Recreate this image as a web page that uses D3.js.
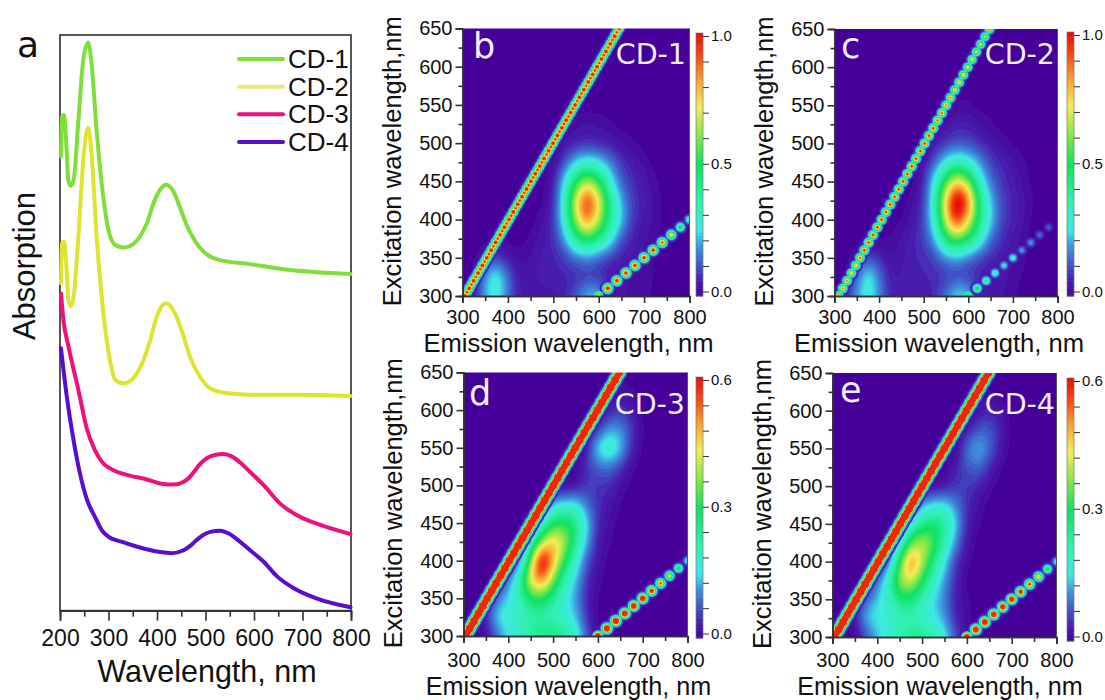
<!DOCTYPE html>
<html>
<head>
<meta charset="utf-8">
<script src="https://cdn.jsdelivr.net/npm/d3@7"></script>
<style>
  html, body { margin: 0; padding: 0; background: #fff; }
  text { font-family: "Liberation Sans", Arial, sans-serif; fill: #111; }
  .white { font-family: "DejaVu Sans", sans-serif; fill: #f3eefc; }
</style>
</head>
<body>
<div id="chart-area"></div>
<script>
// absorption spectra, panel a (wavelength nm / absorption a.u.)
var cd1Wave = [202,204,208,214,217,222,228,238,248,258,265,276,286,300,314,332,351,365,379,393,407,419,434,448,461,475,489,506,530,592,661,730,799];
var cd1Abs = [78.9,85.8,86.1,79.4,74.8,73.8,74.8,85.2,95.7,98.7,95.1,82.9,74.2,66.1,63.5,63.1,63.7,65,67.3,70.8,73.2,74,72.8,69.9,67,64.7,63,61.7,60.9,60.2,59.3,58.8,58.5];
var cd2Wave = [202,204,208,214,217,222,228,238,248,258,265,276,286,303,314,331,351,372,386,400,410,419,437,455,468,489,510,544,592,695,799];
var cd2Abs = [56.9,63.8,64.1,58.6,54.0,52.9,54.5,65.0,78.3,83.9,79.4,64.4,54.5,43.5,40.1,39.5,40.4,43.5,47.0,51.2,52.9,53.4,51.7,47.6,44.1,40.6,38.6,37.8,37.5,37.5,37.3];
var cd3Wave = [202,207,217,238,256,272,286,310,338,379,413,434,455,465,475,489,503,517,537,554,572,592,620,654,695,737,799];
var cd3Abs = [55.1,50.5,46.1,38.3,31.4,27.9,25.9,24.4,23.6,22.8,22.0,21.9,22.4,23.0,24.0,25.5,26.5,27.0,27.2,26.8,25.7,24.1,21.8,18.6,16.3,14.9,13.3];
var cd4Wave = [202,214,228,241,256,272,286,299,330,372,406,430,455,469,482,496,510,530,548,565,592,620,647,682,730,799];
var cd4Abs = [45.6,37.2,29.6,23.9,19.2,16.3,14.0,12.9,11.9,10.8,10.2,10.0,10.5,11.3,12.3,13.2,13.7,13.9,13.4,12.4,10.5,8.5,6.0,3.9,2.1,0.6];

var seriesNames = ["CD-1","CD-2","CD-3","CD-4"];
var seriesColors = ["#7fdf3a","#dfe332","#f0107c","#5a0ccf"];
var legendColors = ["#7fdf3a","#e6ea7c","#f0107c","#5a0ccf"];

// excitation-emission maps: percent of colour bar top.
// rows are excitation 650 down to 300 (step 25), columns emission 300 to 800 (step 25)
var emissionGrid = [300,325,350,375,400,425,450,475,500,525,550,575,600,625,650,675,700,725,750,775,800];
var excitationGrid = [650,625,600,575,550,525,500,475,450,425,400,375,350,325,300];

var mapB = [
[0,0,0,0,0,0,0,0,0,0,0,0,0,0,0,0,0,0,0,0,0],
[0,0,0,0,0,0,0,0,0,0,0,0,0,0,0,0,0,0,0,0,0],
[0,0,0,0,0,0,0,0,0,0,0,0,0,0,0,0,0,0,0,0,0],
[0,0,0,0,0,0,0,0,0,0,0,0,0,0,0,0,0,0,0,0,0],
[0,0,0,0,0,0,0,0,0,0,0,0,0,0,0,0,0,0,0,0,0],
[0,0,0,0,0,0,0,0,0,0,3,4,3,2,0,0,0,0,0,0,0],
[0,0,0,0,0,0,0,0,0,4,6,7,6,5,3,2,0,0,0,0,0],
[0,0,0,0,0,0,0,0,2,12,25,30,26,18,9,6,3,0,0,0,0],
[0,0,0,0,0,0,0,0,5,27,52,68,54,30,13,8,5,2,0,0,0],
[0,0,0,0,0,0,0,0,7,33,74,104,76,42,22,10,6,3,0,0,0],
[0,0,0,0,0,0,0,3,8,32,68,94,68,42,25,9,5,3,0,0,0],
[0,0,0,0,0,0,2,5,8,20,45,54,45,32,12,6,4,2,0,0,0],
[0,0,5,10,5,2,4,6,7,9,15,17,13,8,6,5,3,1,0,0,0],
[0,0,22,34,16,4,5,6,6,7,7,8,7,5,4,3,3,1,0,0,0],
[0,5,22,30,16,5,5,5,5,6,14,26,26,6,4,3,2,1,0,0,0]];

var mapC = [
[0,0,0,0,0,0,0,0,0,0,0,0,0,0,0,0,0,0,0,0,0],
[0,0,0,0,0,0,0,0,0,0,0,0,0,0,0,0,0,0,0,0,0],
[0,0,0,0,0,0,0,0,0,0,0,0,0,0,0,0,0,0,0,0,0],
[0,0,0,0,0,0,0,0,0,0,0,0,0,0,0,0,0,0,0,0,0],
[0,0,0,0,0,0,0,0,0,0,0,2,2,0,0,0,0,0,0,0,0],
[0,0,0,0,0,0,0,0,0,2,4,6,6,4,2,0,0,0,0,0,0],
[0,0,0,0,0,0,0,0,1,5,9,12,11,8,5,3,1,0,0,0,0],
[0,0,0,0,0,0,0,0,4,14,28,35,30,20,11,7,4,2,0,0,0],
[0,0,0,0,0,0,0,0,7,30,58,78,64,33,15,9,6,3,0,0,0],
[0,0,0,0,0,0,0,3,9,34,80,118,92,46,24,11,7,4,1,0,0],
[0,0,0,0,0,0,1,5,10,33,74,104,76,45,26,11,7,4,0,0,0],
[0,0,0,0,0,2,4,7,10,22,50,60,50,35,15,8,5,2,0,0,0],
[0,0,3,12,8,3,5,7,8,10,18,20,15,10,7,6,4,2,0,0,0],
[0,0,16,32,18,5,6,7,7,8,8,9,8,6,5,4,3,1,0,0,0],
[0,8,20,32,18,6,6,6,6,7,18,30,28,7,5,4,2,0,0,0,0]];

var mapD = [
[0,0,0,0,0,0,0,0,0,0,0,0,0,0,0,0,0,0,0,0,0],
[0,0,0,0,0,0,0,0,0,0,0,0,0,0,3,2,0,0,0,0,0],
[0,0,0,0,0,0,0,0,0,0,0,0,0,6,10,6,0,0,0,0,0],
[0,0,0,0,0,0,0,0,0,0,0,0,8,20,20,10,1,0,0,0,0],
[0,0,0,0,0,0,0,0,0,0,0,5,30,38,26,8,0,0,0,0,0],
[0,0,0,0,0,0,0,0,0,0,0,10,14,16,10,2,0,0,0,0,0],
[0,0,0,0,0,0,0,0,0,0,3,9,9,8,3,0,0,0,0,0,0],
[0,0,0,0,0,0,0,0,24,28,28,16,8,5,1,0,0,0,0,0,0],
[0,0,0,0,0,0,0,32,50,54,48,27,7,3,0,0,0,0,0,0,0],
[0,0,0,0,0,0,32,64,82,70,42,22,5,2,0,0,0,0,0,0,0],
[0,0,0,0,0,12,60,118,84,52,32,13,4,0,0,0,0,0,0,0,0],
[0,0,0,0,18,38,80,92,62,36,24,8,2,0,0,0,0,0,0,0,0],
[0,0,0,16,26,34,50,52,40,28,20,7,1,0,0,0,0,0,0,0,0],
[0,0,8,28,30,32,36,36,34,30,24,8,0,0,0,0,0,0,0,0,0],
[0,0,2,14,26,34,42,46,48,44,34,14,2,0,0,0,0,0,0,0,0]];

var mapE = [
[0,0,0,0,0,0,0,0,0,0,0,0,0,0,0,0,0,0,0,0,0],
[0,0,0,0,0,0,0,0,0,0,0,0,0,0,2,0,0,0,0,0,0],
[0,0,0,0,0,0,0,0,0,0,0,0,0,4,7,4,0,0,0,0,0],
[0,0,0,0,0,0,0,0,0,0,0,0,5,13,14,7,0,0,0,0,0],
[0,0,0,0,0,0,0,0,0,0,0,0,18,25,16,5,0,0,0,0,0],
[0,0,0,0,0,0,0,0,0,0,0,7,12,16,8,1,0,0,0,0,0],
[0,0,0,0,0,0,0,0,0,0,4,9,10,7,2,0,0,0,0,0,0],
[0,0,0,0,0,0,0,0,22,28,28,18,8,3,0,0,0,0,0,0,0],
[0,0,0,0,0,0,0,30,42,50,44,26,6,2,0,0,0,0,0,0,0],
[0,0,0,0,0,0,26,58,72,58,36,19,4,0,0,0,0,0,0,0,0],
[0,0,0,0,0,12,54,96,68,44,27,9,2,0,0,0,0,0,0,0,0],
[0,0,0,0,16,34,68,74,52,32,20,7,0,0,0,0,0,0,0,0,0],
[0,0,0,14,24,32,46,46,36,25,17,5,2,0,0,0,0,0,0,0,0],
[0,0,6,26,28,30,34,34,30,26,20,7,2,0,0,0,0,0,0,0,0],
[0,0,0,10,22,30,38,44,46,40,30,12,3,0,0,0,0,0,0,0,0]];

// second order scatter spots, emission nm and excitation nm, with peak height per panel
var spotEm = [600,620,640,660,680,700,720,740,760,780,800];
var spotEx = [300,310,320,330,340,350,360,370,380,390,400];
var spotsB = [0.8,1.1,1.05,1.05,1.05,1.05,1.05,0.95,0.8,0.55,0.4];
var spotsC = [0.65,0.55,0.45,0.38,0.28,0.33,0.2,0.2,0.15,0.13,0];
var spotsD = [1.4,1.5,1.5,1.4,1.35,1.35,1.15,0.95,0.75,0.55,0.3];
var spotsE = [1.4,1.4,1.4,1.35,1.3,1.3,1.15,1,0.85,0.55,0.3];

// first order scatter line: peak height of each bead
var lineC = [0.95,0.9,0.9,0.85,0.85,0.95,1,1,1,1,1,1,1,1,1,1,1,1,1,1,1,1,1,0.95,0.95,0.9,0.9,0.85,0.85,0.85,0.8,0.8,0.75,0.75,0.7];

var tickEm = [300,400,500,600,700,800];
var minorEm = [350,450,550,650,750];
var tickEx = [300,350,400,450,500,550,600,650];
var minorEx = [325,375,425,475,525,575,625];
var tickWave = [200,300,400,500,600,700,800];
var minorWave = [250,350,450,550,650,750];

var panels = [
  {letter:"b", name:"CD-1", map:mapB, spots:spotsB, x0:462.5, x1:689.5, y0:28.5, y1:296, bar:[696,703,33,296], top:"1.0", mid:"0.5", lineStart:305, lineEnd:645, beadStep:5, beadAmp:[1.15,1], beadS:2.6, lx:473, ly:58, cy:64, cx:686, xBase:325, tBase:352, tSize:25.6, tc:568.5},
  {letter:"c", name:"CD-2", map:mapC, spots:spotsC, x0:834.5, x1:1057.5, y0:29, y1:296, bar:[1067,1074,32,296], top:"1.0", mid:"0.5", lineStart:309, lineEnd:647, beadStep:10, beadAmp:lineC, beadS:2.7, lx:841, ly:58, cy:64, cx:1055, xBase:325, tBase:352, tSize:25.6, tc:939},
  {letter:"d", name:"CD-3", map:mapD, spots:spotsD, x0:463.5, x1:687.5, y0:372.5, y1:636, bar:[696,703,377,638], top:"0.6", mid:"0.3", lineStart:304, lineEnd:648, beadStep:5, beadAmp:[2,1.6], beadS:3, lx:469, ly:405, cy:414, cx:685, xBase:668, tBase:694.5, tSize:25.2, tc:568.5},
  {letter:"e", name:"CD-4", map:mapE, spots:spotsE, x0:832.5, x1:1056.5, y0:373, y1:637, bar:[1067,1074,378,641], top:"0.6", mid:"0.3", lineStart:304, lineEnd:648, beadStep:5, beadAmp:[2,1.6], beadS:3, lx:840, ly:402, cy:414, cx:1055, xBase:668, tBase:694.5, tSize:25.2, tc:940}
];

var color = d3.scaleLinear()
  .domain([0,0.05,0.12,0.19,0.25,0.36,0.5,0.62,0.72,0.82,0.91,1])
  .range(["#45049a","#4818ac","#4056c6","#3f96de","#40e8e6","#30f0b0","#10e060","#8ce848","#f4ec58","#f8a632","#f84c14","#e60c0c"])
  .clamp(true);

var svg = d3.select("#chart-area").append("svg")
  .attr("width",1105)
  .attr("height",700)
  .style("display","block");

var defs = svg.append("defs");
defs.append("filter").attr("id","soft")
  .append("feGaussianBlur").attr("stdDeviation",0.6);

function styleAxis(sel, size) {
  sel.selectAll("path").attr("stroke","#333").attr("stroke-width",1.6);
  sel.selectAll("line").attr("stroke","#333").attr("stroke-width",1.6);
  sel.selectAll("text").attr("font-size",size).attr("fill","#111");
}

// panel a
var xA = d3.scaleLinear().domain([200,800]).range([60,351]);
var yA = d3.scaleLinear().domain([0,100]).range([610.7,35]);

svg.append("rect")
  .attr("x",60).attr("y",35).attr("width",291).attr("height",575.7)
  .attr("fill","none").attr("stroke","#444").attr("stroke-width",1.8);

var lineA = d3.line().x(d => xA(d[0])).y(d => yA(d[1])).curve(d3.curveMonotoneX);
var spectra = [d3.zip(cd1Wave,cd1Abs), d3.zip(cd2Wave,cd2Abs), d3.zip(cd3Wave,cd3Abs), d3.zip(cd4Wave,cd4Abs)];

svg.append("g").selectAll("path").data(spectra).enter().append("path")
  .attr("d",lineA)
  .attr("fill","none")
  .attr("stroke",(d,i) => seriesColors[i])
  .attr("stroke-width",4)
  .attr("stroke-linejoin","round")
  .attr("stroke-linecap","round");

var axisA = svg.append("g").attr("transform","translate(0,610.7)")
  .call(d3.axisBottom(xA).tickValues(tickWave).tickSize(10).tickPadding(9).tickFormat(d3.format("d")));
styleAxis(axisA,23);
var minorA = svg.append("g").attr("transform","translate(0,610.7)")
  .call(d3.axisBottom(xA).tickValues(minorWave).tickSize(6).tickFormat(""));
styleAxis(minorA,23);

var legend = svg.append("g").selectAll("g").data(seriesNames).enter().append("g")
  .attr("transform",(d,i) => "translate(0," + d3.scalePoint().domain(seriesNames).range([59,142])(d) + ")");
legend.append("line")
  .attr("x1",239).attr("x2",283)
  .attr("stroke",(d,i) => legendColors[i])
  .attr("stroke-width",4)
  .attr("stroke-linecap","round");
legend.append("text")
  .attr("x",288).attr("y",9)
  .attr("font-size",26)
  .text(d => d);

svg.append("text").attr("x",17).attr("y",57).attr("font-size",36)
  .style("font-family","'DejaVu Sans', sans-serif").text("a");
svg.append("text").attr("text-anchor","middle")
  .attr("transform","translate(35,266) rotate(-90)")
  .attr("font-size",31).text("Absorption");
svg.append("text").attr("x",207).attr("y",682).attr("text-anchor","middle")
  .attr("font-size",30.5).text("Wavelength, nm");

// gaussian-looking spot drawn as rings of the colour map
var ringLevels = [0.03,0.07,0.12,0.17,0.22,0.27,0.33,0.4,0.47,0.54,0.62,0.7,0.78,0.86,0.94];

function drawBeads(g, beads, x, y) {
  ringLevels.forEach(function(l) {
    g.append("g").selectAll("circle")
      .data(beads.filter(d => d.amp > l && l >= (d.floor || 0)))
      .enter().append("circle")
      .attr("cx",d => x(d.em))
      .attr("cy",d => y(d.ex))
      .attr("r",d => d.s * Math.sqrt(2 * Math.log(d.amp / l)))
      .attr("fill",color(l + 0.02));
  });
}

// bilinear resample of the typed grid so the contours come out round
function resample(rows, k) {
  var n = rows[0].length, m = rows.length;
  var w = (n - 1) * k + 1, h = (m - 1) * k + 1;
  var values = new Float64Array(w * h);
  for (var j = 0; j < h; j++) {
    var jf = j / k, j0 = Math.min(Math.floor(jf), m - 2), tj = jf - j0;
    for (var i = 0; i < w; i++) {
      var iF = i / k, i0 = Math.min(Math.floor(iF), n - 2), ti = iF - i0;
      var a = d3.interpolateNumber(rows[j0][i0], rows[j0][i0 + 1])(ti);
      var b = d3.interpolateNumber(rows[j0 + 1][i0], rows[j0 + 1][i0 + 1])(ti);
      values[j * w + i] = d3.interpolateNumber(a, b)(tj) / 100;
    }
  }
  return {data:values, width:w, height:h};
}

var thresholds = d3.range(0.015,1.0,0.02);
var k = 6;

panels.forEach(function(p, idx) {
  var x = d3.scaleLinear().domain([300,800]).range([p.x0,p.x1]);
  var y = d3.scaleLinear().domain([300,650]).range([p.y1,p.y0]);
  var clipId = "clip" + idx;
  defs.append("clipPath").attr("id",clipId).append("rect")
    .attr("x",p.x0).attr("y",p.y0).attr("width",p.x1 - p.x0).attr("height",p.y1 - p.y0);

  var plot = svg.append("g").attr("clip-path","url(#" + clipId + ")");
  var heat = plot.append("g").attr("filter","url(#soft)");
  heat.append("rect")
    .attr("x",p.x0 - 5).attr("y",p.y0 - 5).attr("width",p.x1 - p.x0 + 10).attr("height",p.y1 - p.y0 + 10)
    .attr("fill",color(0));

  var grid = resample(p.map, k);
  d3.blur2(grid, 2);
  var contours = d3.contours().size([grid.width,grid.height]).thresholds(thresholds)(Array.from(grid.data));

  var emAt = d3.scaleLinear().domain([0.5,grid.width - 0.5]).range([300,800]);
  var exAt = d3.scaleLinear().domain([0.5,grid.height - 0.5]).range([650,300]);
  var path = d3.geoPath(d3.geoTransform({
    point: function(px, py) { this.stream.point(x(emAt(px)), y(exAt(py))); }
  }));

  heat.append("g").selectAll("path").data(contours).enter().append("path")
    .attr("d",path)
    .attr("fill",d => color(d.value));

  // first order scatter line
  var emOnLine = d3.scaleLinear().domain([300,650]).range([p.lineStart,p.lineEnd]);
  var beads = d3.range(300,655,p.beadStep).map(function(ex, i) {
    return {ex:ex, em:emOnLine(ex), amp:p.beadAmp[i % p.beadAmp.length], s:p.beadS};
  });
  drawBeads(heat, beads, x, y);

  // second order spots, the first one sits on the bright strip so no dark rim
  var spots = spotEm.map(function(em, i) {
    return {em:em, ex:spotEx[i], amp:p.spots[i], s:3, floor:i == 0 ? 0.22 : 0};
  }).filter(d => d.amp > 0);
  drawBeads(heat, spots, x, y);

  // axes
  var ax = svg.append("g").attr("transform","translate(0," + p.y1 + ")")
    .call(d3.axisBottom(x).tickValues(tickEm).tickSize(7).tickPadding(p.xBase - p.y1 - 22).tickFormat(d3.format("d")));
  styleAxis(ax,20);
  var axm = svg.append("g").attr("transform","translate(0," + p.y1 + ")")
    .call(d3.axisBottom(x).tickValues(minorEm).tickSize(5).tickFormat(""));
  styleAxis(axm,20);
  var ay = svg.append("g").attr("transform","translate(" + p.x0 + ",0)")
    .call(d3.axisLeft(y).tickValues(tickEx).tickSize(7).tickPadding(3).tickFormat(d3.format("d")));
  styleAxis(ay,20);
  var aym = svg.append("g").attr("transform","translate(" + p.x0 + ",0)")
    .call(d3.axisLeft(y).tickValues(minorEx).tickSize(4).tickFormat(""));
  styleAxis(aym,20);

  svg.append("line")
    .attr("x1",p.x1).attr("x2",p.x1).attr("y1",p.y0).attr("y2",p.y1)
    .attr("stroke","#555").attr("stroke-width",1);

  // colour bar, ticks sit a little inside the ends of the bar
  var bar = p.bar;
  var yBar = d3.scaleLinear().domain([0,1]).range([bar[3],bar[2]]);
  var yTick = d3.scaleLinear().domain([0,1]).range([bar[3] - 4.5,bar[2] + 3]);
  var bands = d3.range(0,1,0.01);
  svg.append("g").selectAll("rect").data(bands).enter().append("rect")
    .attr("x",bar[0])
    .attr("y",d => yBar(d + 0.01))
    .attr("width",bar[1] - bar[0])
    .attr("height",d => yBar(d) - yBar(d + 0.01) + 0.5)
    .attr("fill",d => color(d + 0.005));
  svg.append("rect")
    .attr("x",bar[0]).attr("y",bar[2]).attr("width",bar[1] - bar[0]).attr("height",bar[3] - bar[2])
    .attr("fill","none").attr("stroke","#777").attr("stroke-width",0.7);
  var cAxis = svg.append("g").attr("transform","translate(" + bar[1] + ",0)")
    .call(d3.axisRight(yTick).tickValues(d3.range(0,1.01,0.1)).tickSize(6).tickPadding(2)
      .tickFormat(d => Math.abs(d - 1) < 0.01 ? p.top : Math.abs(d - 0.5) < 0.01 ? p.mid : Math.abs(d) < 0.01 ? "0.0" : ""));
  styleAxis(cAxis,15);
  cAxis.select("path").remove();
  cAxis.selectAll("line").attr("stroke-width",1);

  // labels
  svg.append("text").attr("class","white").attr("x",p.lx).attr("y",p.ly).attr("font-size",35).text(p.letter);
  svg.append("text").attr("class","white").attr("x",p.cx).attr("y",p.cy).attr("text-anchor","end").attr("font-size",28.5).text(p.name);
  svg.append("text").attr("x",p.tc).attr("y",p.tBase).attr("text-anchor","middle")
    .attr("font-size",p.tSize).text("Emission wavelength, nm");
  svg.append("text").attr("text-anchor","middle")
    .attr("transform","translate(" + (p.x0 - 62) + "," + ((p.y0 + p.y1) / 2 - 1) + ") rotate(-90)")
    .attr("font-size",25.6).text("Excitation wavelength,nm");
});
</script>
</body>
</html>
